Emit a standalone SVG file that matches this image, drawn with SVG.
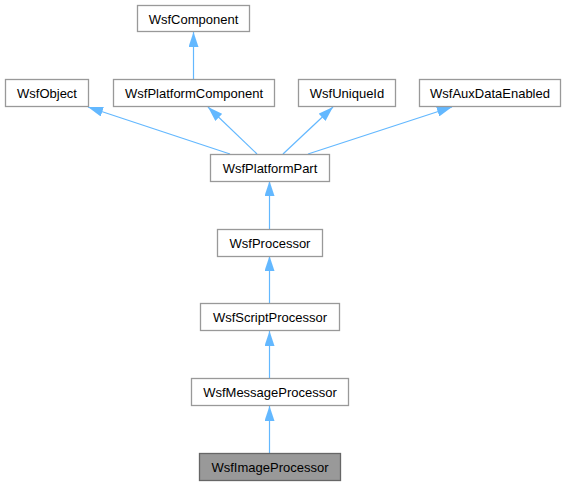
<svg xmlns="http://www.w3.org/2000/svg" width="568" height="485" viewBox="0 0 568 485">
<style>
.n rect{fill:#fff;stroke:#999;stroke-width:1.3}
.n.cur rect{fill:#999;stroke:#666}
.n text{font-family:"Liberation Sans",Arial,sans-serif;font-size:13px;fill:#000;text-anchor:middle}
.e line{stroke:#63b8ff;stroke-width:1.2;marker-end:url(#ah)}
</style>
<defs>
<marker id="ah" viewBox="0 0 15 10" refX="15" refY="5" markerWidth="15" markerHeight="10" markerUnits="userSpaceOnUse" orient="auto">
<path d="M0,0 L15,5 L0,10 z" fill="#63b8ff"/>
</marker>
</defs>
<rect width="568" height="485" fill="#fff"/>
<g class="e">
<line x1="193.5" y1="79" x2="193.5" y2="32"/>
<line x1="230" y1="154" x2="88" y2="107"/>
<line x1="257" y1="154" x2="208" y2="107"/>
<line x1="283" y1="154" x2="333" y2="107"/>
<line x1="308" y1="154" x2="452" y2="107"/>
<line x1="269.5" y1="229" x2="269.5" y2="181"/>
<line x1="269.5" y1="303" x2="269.5" y2="256"/>
<line x1="269.5" y1="378" x2="269.5" y2="331"/>
<line x1="269.5" y1="453" x2="269.5" y2="406"/>
</g>
<g id="WsfComponent" class="n"><rect x="137.5" y="5.5" width="112" height="26"/><text x="193.5" y="23.5">WsfComponent</text></g>
<g id="WsfObject" class="n"><rect x="5.5" y="79.5" width="83" height="27"/><text x="47" y="97.5">WsfObject</text></g>
<g id="WsfPlatformComponent" class="n"><rect x="113.5" y="79.5" width="161" height="27"/><text x="194" y="97.5">WsfPlatformComponent</text></g>
<g id="WsfUniqueId" class="n"><rect x="298.5" y="79.5" width="97" height="27"/><text x="347" y="97.5">WsfUniqueId</text></g>
<g id="WsfAuxDataEnabled" class="n"><rect x="419.5" y="79.5" width="141" height="27"/><text x="490" y="97.5">WsfAuxDataEnabled</text></g>
<g id="WsfPlatformPart" class="n"><rect x="210.5" y="154.5" width="119" height="27"/><text x="270" y="172.5">WsfPlatformPart</text></g>
<g id="WsfProcessor" class="n"><rect x="217.5" y="229.5" width="105" height="27"/><text x="270" y="247.5">WsfProcessor</text></g>
<g id="WsfScriptProcessor" class="n"><rect x="200.5" y="303.5" width="139" height="27"/><text x="270" y="321.5">WsfScriptProcessor</text></g>
<g id="WsfMessageProcessor" class="n"><rect x="191.5" y="378.5" width="157" height="27"/><text x="270" y="396.5">WsfMessageProcessor</text></g>
<g id="WsfImageProcessor" class="n cur"><rect x="199.5" y="453.5" width="141" height="27"/><text x="270" y="471.5">WsfImageProcessor</text></g>
</svg>
